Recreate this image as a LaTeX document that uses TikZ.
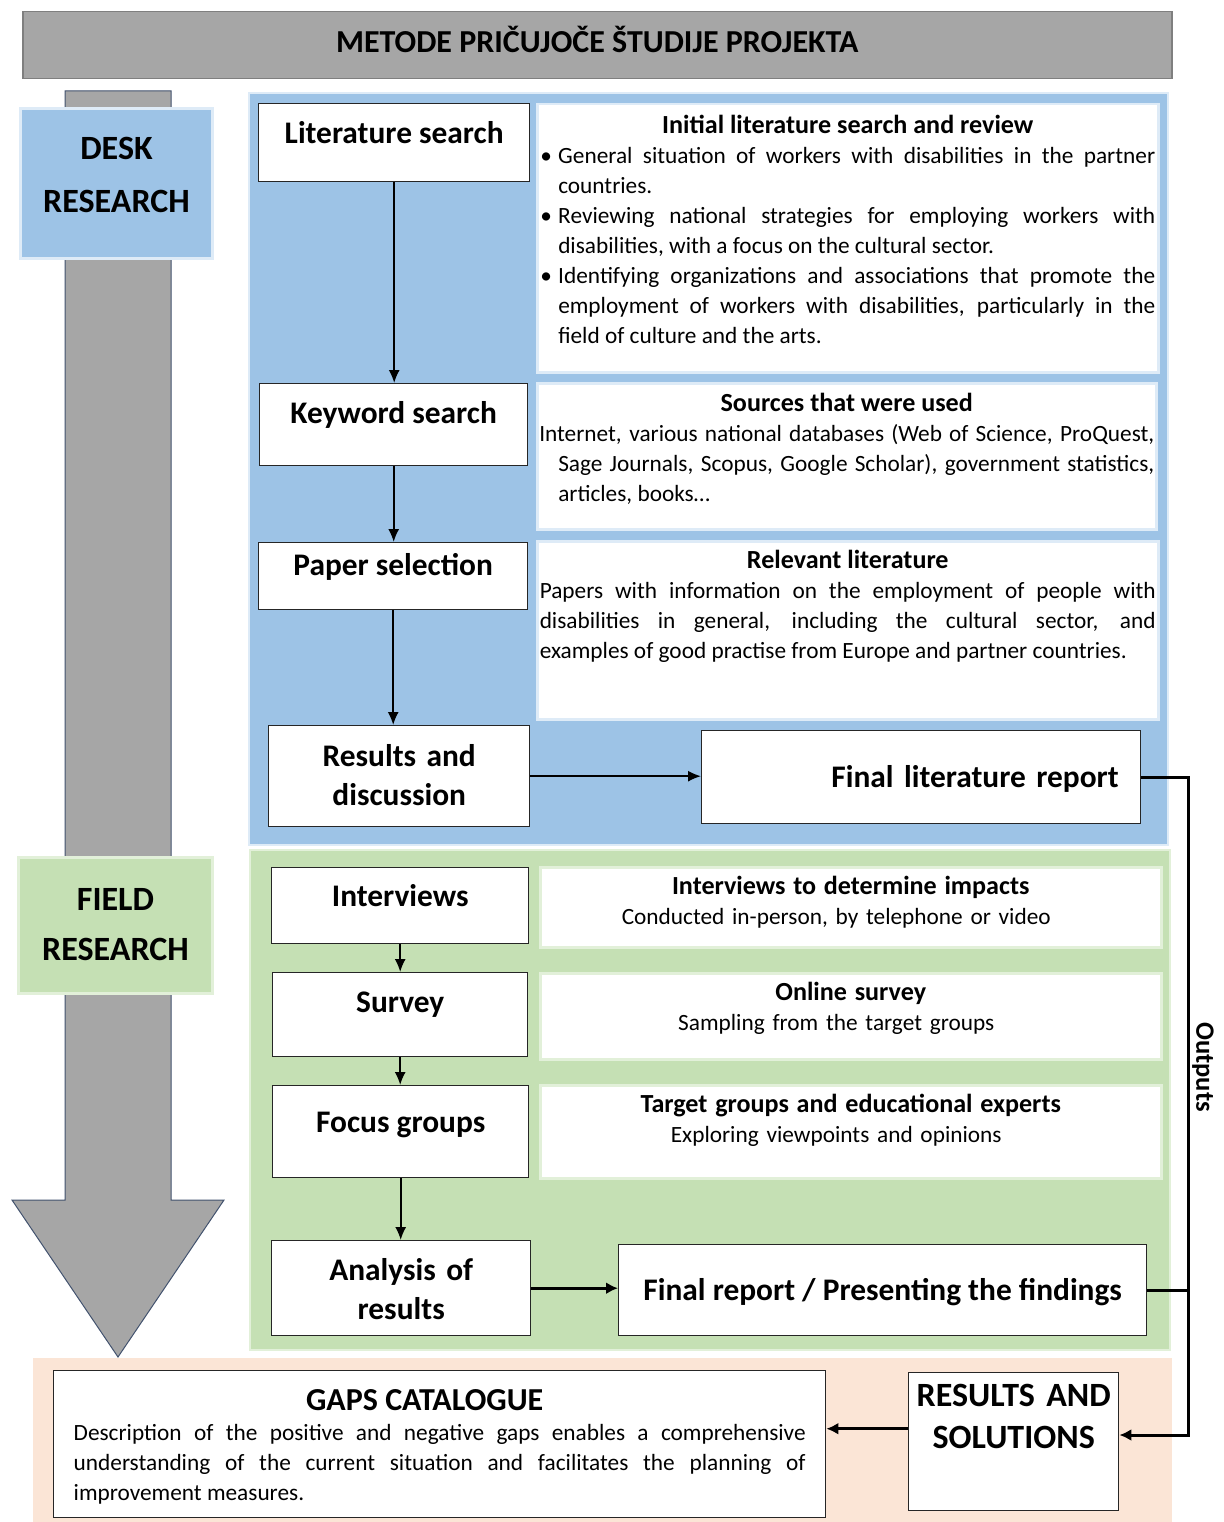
\documentclass[tikz,border=0pt]{standalone}
\usepackage{fontspec}
\setmainfont{Carlito}
\usetikzlibrary{arrows.meta}
\definecolor{headGray}{HTML}{A6A6A6}
\definecolor{headLine}{HTML}{7F7F7F}
\definecolor{arrowLine}{HTML}{42526E}
\definecolor{deskBlue}{HTML}{9DC3E6}
\definecolor{deskEdge}{HTML}{DEEBF7}
\definecolor{fieldGreen}{HTML}{C5E0B4}
\definecolor{fieldEdge}{HTML}{E2F0D9}
\definecolor{gapPeach}{HTML}{FBE5D6}
\definecolor{boxLine}{HTML}{262626}
\tolerance=9999
\hyphenpenalty=10000
\newcommand{\stepFont}{\fontsize{31.4}{39}\selectfont\bfseries}
\newcommand{\infoFont}{\fontsize{23.3}{30}\selectfont}
\newcommand{\infoTitle}[1]{{\centering\fontsize{26.1}{30}\selectfont\bfseries #1\par}}
\newcommand{\bulletItem}[1]{\hangindent=18pt\hangafter=1\noindent\makebox[18pt][l]{\textbullet}#1\par}
\tikzstyle{canvas} = [x=1pt, y=-1pt]
\tikzstyle{headBar} = [draw=headLine, fill=headGray, line width=1.5pt, font=\fontsize{32}{36}\selectfont\bfseries, text height=20pt, anchor=north west]
\tikzstyle{bigArrow} = [draw=arrowLine, fill=headGray, line width=1pt]
\tikzstyle{panel} = [line width=2pt]
\tikzstyle{sideBox} = [line width=3pt, inner xsep=0pt, align=center, text height=22pt, anchor=north west]
\tikzstyle{stepBox} = [draw=boxLine, fill=white, line width=1.4pt, font=\stepFont, text height=20pt, text depth=0pt, anchor=north west]
\tikzstyle{infoBox} = [fill=white, line width=2.5pt, inner xsep=0pt, font=\infoFont, text height=17pt, anchor=north west]
\tikzstyle{flowArrow} = [line width=1.6pt, -{Latex[length=13pt, width=11pt]}]
\tikzstyle{thickArrow} = [line width=3pt, -{Latex[length=12pt, width=12pt]}]
\tikzstyle{outputLine} = [line width=3pt]

\begin{document}
\begin{tikzpicture}[canvas]
\useasboundingbox (0,0) rectangle (1223,1522);
% title bar and the long arrow
\node (head) [headBar, minimum width=1149, minimum height=67, text depth=5pt] at (22,11) {METODE PRIČUJOČE ŠTUDIJE PROJEKTA};
\draw [bigArrow] (65,91) -- (171,91) -- (171,1200) -- (224,1200) -- (118,1357) -- (12,1200) -- (65,1200) -- cycle;

% panels
\draw [panel, draw=deskEdge, fill=deskBlue] (249,93) rectangle (1168,845);
\draw [panel, draw=fieldEdge, fill=fieldGreen] (250,850) rectangle (1170,1350);
\fill [gapPeach] (33,1358) rectangle (1172,1522);

% side labels
\node (desk) [sideBox, draw=deskEdge, fill=deskBlue, minimum width=192, minimum height=150, text width=192pt, text depth=70pt, font=\fontsize{34}{53}\selectfont\bfseries] at (19,107) {DESK\\RESEARCH};
\node (field) [sideBox, draw=fieldEdge, fill=fieldGreen, minimum width=194, minimum height=136, text width=194pt, text depth=52pt, font=\fontsize{34}{50}\selectfont\bfseries] at (17,856) {FIELD\\RESEARCH};

% desk research
\node (lit) [stepBox, minimum width=271, minimum height=78, text depth=18pt] at (258,103) {Literature search};
\node (key) [stepBox, minimum width=268, minimum height=82, text depth=22pt] at (259,383) {Keyword search};
\node (paper) [stepBox, minimum width=269, minimum height=67, text depth=21pt] at (258,542) {Paper selection};
\node (res) [stepBox, minimum width=261, minimum height=101, text width=240pt, align=center, text depth=39pt] at (268,725) {Results and\\discussion};
\node (flr) [stepBox, minimum width=439, minimum height=93, text width=395pt, align=right] at (701,730) {Final literature report};

\node (initBox) [infoBox, draw=deskEdge, minimum width=621, minimum height=268, text width=615pt, align=justify, text depth=226pt] at (536,103) {%
  \infoTitle{Initial literature search and review}
  \bulletItem{General situation of workers with disabilities in the partner\linebreak countries.}
  \bulletItem{Reviewing national strategies for employing workers with\linebreak disabilities, with a focus on the cultural sector.}
  \bulletItem{Identifying organizations and associations that promote the\linebreak employment of workers with disabilities, particularly in the\linebreak field of culture and the arts.}};
\node (srcBox) [infoBox, draw=deskEdge, minimum width=619, minimum height=146, text width=615pt, align=justify, text depth=106pt] at (536,382) {%
  \infoTitle{Sources that were used}
  \hangindent=19pt\hangafter=1 Internet, various national databases (Web of Science, ProQuest,\linebreak Sage Journals, Scopus, Google Scholar), government statistics,\linebreak articles, books…\par};
\node (relBox) [infoBox, draw=deskEdge, minimum width=621, minimum height=178, text width=616pt, align=justify, text depth=140pt] at (536,540) {%
  \infoTitle{Relevant literature}
  Papers with information on the employment of people with\linebreak disabilities in general, including the cultural sector, and\linebreak examples of good practise from Europe and partner countries.\par};

% field research
\node (intv) [stepBox, minimum width=257, minimum height=76, text depth=18pt] at (271,867) {Interviews};
\node (surv) [stepBox, minimum width=255, minimum height=84, text depth=24pt] at (272,972) {Survey};
\node (focus) [stepBox, minimum width=256, minimum height=92, text depth=18pt] at (272,1085) {Focus groups};
\node (ana) [stepBox, minimum width=259, minimum height=95, text width=240pt, align=center, text depth=35pt] at (271,1240) {Analysis of\\results};
\node (frep) [stepBox, minimum width=528, minimum height=91] at (618,1244) {Final report / Presenting the findings};

\node (intBox) [infoBox, draw=fieldEdge, minimum width=621, minimum height=80, text width=621pt, align=center, text depth=42pt] at (539,866) {%
  \infoTitle{Interviews to determine impacts}
  \hspace*{-29pt}Conducted in-person, by telephone or video\par};
\node (onlBox) [infoBox, draw=fieldEdge, minimum width=621, minimum height=86, text width=621pt, align=center, text depth=48pt] at (539,972) {%
  \infoTitle{Online survey}
  \hspace*{-29pt}Sampling from the target groups\par};
\node (tgtBox) [infoBox, draw=fieldEdge, minimum width=621, minimum height=93, text width=621pt, align=center, text depth=55pt] at (539,1084) {%
  \infoTitle{Target groups and educational experts}
  \hspace*{-29pt}Exploring viewpoints and opinions\par};

% results
\node (gaps) [stepBox, font=\infoFont, minimum width=772, minimum height=147, text width=732pt, align=justify, text depth=87pt] at (53,1370) {%
  {\centering\fontsize{32}{32}\selectfont\bfseries\hspace*{-30pt}GAPS CATALOGUE\par}
  Description of the positive and negative gaps enables a comprehensive\linebreak understanding of the current situation and facilitates the planning of\linebreak improvement measures.\par};
\node (rs) [stepBox, font=\fontsize{34}{42}\selectfont\bfseries, minimum width=210, minimum height=138, text width=200pt, align=center, text height=22pt, text depth=92pt] at (908,1372) {RESULTS AND\\SOLUTIONS};

% connectors
\draw [flowArrow] (lit.south) -- (lit.south |- key.north);
\draw [flowArrow] (key.south) -- (key.south |- paper.north);
\draw [flowArrow] (paper.south) -- (paper.south |- res.north);
\draw [flowArrow] (res.east) -- (res.east -| flr.west);
\draw [flowArrow] (intv.south) -- (intv.south |- surv.north);
\draw [flowArrow] (surv.south) -- (surv.south |- focus.north);
\draw [flowArrow] (focus.south) -- (focus.south |- ana.north);
\draw [thickArrow] (ana.east) -- (ana.east -| frep.west);
\coordinate (bus) at (1188,1435);
\draw [outputLine, -{Latex[length=12pt, width=12pt]}] (flr.east) -| (bus) -- (bus -| rs.east);
\draw [outputLine] (frep.east) -- (frep.east -| bus);
\node (outputs) [font=\fontsize{26.5}{30}\selectfont\bfseries, rotate=-90] at (1203,1067) {Outputs};
\draw [thickArrow] ([yshift=13pt]rs.west) -- ([yshift=13pt]rs.west -| gaps.east);
\end{tikzpicture}
\end{document}
